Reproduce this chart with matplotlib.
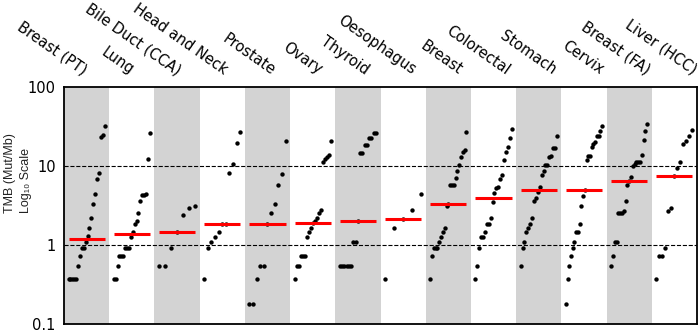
import numpy as np
import matplotlib
matplotlib.use('Agg')
import matplotlib.pyplot as plt
from matplotlib.ticker import NullLocator


cancers = [
	'Breast (PT)', 'Lung', 'Bile Duct (CCA)', 'Head and Neck', 'Prostate',
	'Ovary', 'Thyroid', 'Oesophagus', 'Breast', 'Colorectal', 'Stomach',
	'Cervix', 'Breast (FA)', 'Liver (HCC)']

# TMB per sample (Mut/Mb)
tmb_breast_pt = [0.37, 0.37, 0.37, 0.37, 0.37, 0.55, 0.73, 0.92, 0.92, 1.1,
	1.29, 1.66, 2.2, 3.3, 4.4, 6.8, 8.1, 23.5, 24.7, 31.8]
tmb_lung = [0.37, 0.37, 0.55, 0.73, 0.73, 0.73, 0.92, 0.92, 0.92, 1.28,
	1.47, 1.83, 2.0, 2.57, 3.64, 4.25, 4.25, 4.4, 12.2, 26.5]
tmb_bile_duct = [0.55, 0.55, 0.92, 1.47, 2.4, 2.94, 3.15]
tmb_head_neck = [0.37, 0.92, 1.1, 1.28, 1.47, 1.84, 1.84, 8.16, 10.5, 19.5, 26.9]
tmb_prostate = [0.18, 0.18, 0.37, 0.55, 0.55, 1.84, 2.57, 3.33, 5.7, 7.85, 20.5]
tmb_ovary = [0.37, 0.55, 0.55, 0.73, 0.73, 0.73, 1.28, 1.47, 1.65, 1.92,
	2.01, 2.2, 2.52, 2.75, 11.4, 12.4, 13.1, 13.7, 20.7]
tmb_thyroid = [0.55, 0.55, 0.55, 0.55, 0.55, 0.55, 1.1, 1.1, 2.01, 14.7,
	14.7, 18.3, 18.3, 22.4, 22.4, 26.5, 26.5]
tmb_oesophagus = [0.37, 1.64, 2.13, 2.75, 4.42]
tmb_breast = [0.37, 0.73, 0.92, 0.92, 0.92, 1.1, 1.28, 1.47, 1.65, 3.12,
	3.34, 5.7, 5.7, 5.7, 7.1, 8.55, 10.2, 13.0, 15.2, 15.9, 27.0]
tmb_colorectal = [0.37, 0.55, 0.92, 1.28, 1.28, 1.47, 1.83, 1.83, 2.2, 3.47,
	4.6, 5.3, 5.5, 6.9, 7.7, 11.9, 15.0, 17.6, 22.8, 29.7]
tmb_stomach = [0.55, 0.92, 1.1, 1.47, 1.65, 1.83, 2.2, 3.64, 3.97, 4.7,
	5.4, 7.7, 8.6, 10.3, 10.3, 13.1, 13.4, 16.9, 16.9, 24.0]
tmb_cervix = [0.18, 0.37, 0.55, 0.73, 0.92, 1.1, 1.47, 1.47, 1.84, 3.12,
	4.2, 4.93, 11.9, 13.4, 13.4, 17.5, 19.0, 20.1, 24.0, 24.0, 27.8, 32.3]
tmb_breast_fa = [0.55, 0.73, 1.1, 1.1, 2.57, 2.57, 2.57, 2.72, 3.64, 5.7,
	6.4, 7.2, 9.9, 10.7, 11.1, 11.4, 11.4, 13.6, 21.4, 27.5, 33.7]
tmb_liver = [0.37, 0.73, 0.73, 0.92, 2.72, 2.9, 7.55, 9.5, 11.1, 18.8,
	20.9, 23.7, 28.6]

medians = [1.19, 1.38, 1.47, 1.84, 1.84, 1.92, 2.01, 2.13, 3.34, 3.97,
	4.93, 4.93, 6.4, 7.55]

samples = [tmb_breast_pt, tmb_lung, tmb_bile_duct, tmb_head_neck,
	tmb_prostate, tmb_ovary, tmb_thyroid, tmb_oesophagus, tmb_breast,
	tmb_colorectal, tmb_stomach, tmb_cervix, tmb_breast_fa, tmb_liver]


def tmb_plot(out):

	fig = plt.figure(figsize=(6.99, 3.32), dpi=100)
	ax = fig.add_axes([64/699, 8/332, 633/699, 237/332])
	ax.set_yscale('log')
	ax.set_ylim(0.1, 100)
	ax.set_xlim(-0.5, len(cancers) - 0.5)

	for i in range(0, len(cancers), 2):
		ax.axvspan(i - 0.5, i + 0.5, color='lightgray', lw=0, zorder=0)
	for y in [1, 10]:
		ax.axhline(y, ls='--', color='black', lw=0.8, zorder=1)

	for i, vals in enumerate(samples):
		vals = np.sort(vals)
		xs = i - 0.4 + 0.8*np.arange(len(vals))/(len(vals) - 1)
		ax.scatter(xs, vals, s=10, color='black', lw=0, zorder=2)
		ax.hlines(medians[i], i - 0.4, i + 0.4, color='red', lw=2.2, zorder=3)

	ax.set_xticks([])
	ax.set_yticks([0.1, 1, 10, 100])
	ax.set_yticklabels(['0.1', '1', '10', '100'])
	ax.yaxis.set_minor_locator(NullLocator())
	ax.tick_params(axis='y', length=0, pad=6, labelsize=10.5)
	for sp in ax.spines.values():
		sp.set_linewidth(1.3)

	for i, name in enumerate(cancers):
		ax.text(0.030 + 0.0741*i, 1.05, name, rotation=-35,
				rotation_mode='anchor', ha='right', va='baseline',
				fontsize=10.5, transform=ax.transAxes)

	fig.text(18/699, 1 - 173/332, 'TMB (Mut/Mb)\nLog\u2081\u2080 Scale',
			rotation=90, ha='center', va='center', multialignment='left',
			linespacing=1.45, fontsize=9, color='#222222',
			family=['Liberation Sans', 'DejaVu Sans'])

	fig.savefig(out, dpi=100)


if __name__ == "__main__":
	tmb_plot('out.png')
